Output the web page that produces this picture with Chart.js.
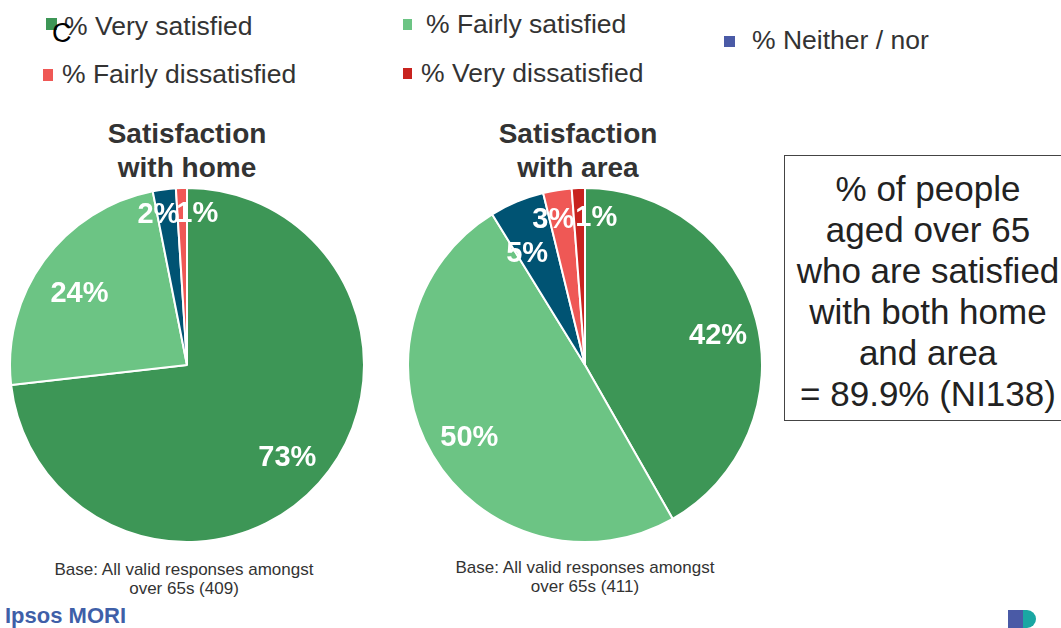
<!DOCTYPE html>
<html><head><meta charset="utf-8">
<script src="https://cdn.jsdelivr.net/npm/chart.js@4.4.1/dist/chart.umd.min.js"></script>
<style>
html,body{margin:0;padding:0;background:#fff;overflow:hidden;width:1061px;height:628px;position:relative;font-family:"Liberation Sans",Arial,sans-serif;}
.abs{position:absolute;white-space:nowrap;}
.lg{font-size:26.5px;color:#333;line-height:30px;}
.sq{position:absolute;}
.title{font-size:28px;font-weight:bold;color:#333;text-align:center;line-height:34px;width:300px;}
.base{font-size:17px;color:#333;text-align:center;line-height:19px;width:340px;}
#box{position:absolute;left:784px;top:155px;width:288px;height:266px;border:1px solid #444;box-sizing:border-box;text-align:center;font-size:35px;line-height:41px;color:#222;padding-top:12px;}
canvas{display:block;}
.cw{position:absolute;width:356px;height:356px;}
</style></head>
<body>
<div class="sq" style="left:46px;top:18px;width:11px;height:12px;background:#3d9656"></div>
<div class="abs lg" style="left:64px;top:11px">% Very satisfied</div>
<div class="abs" style="left:52px;top:18px;font-size:27px;color:#000;line-height:30px;">C</div>
<div class="sq" style="left:403px;top:19px;width:9px;height:11px;background:#6cc484"></div>
<div class="abs lg" style="left:426px;top:9px">% Fairly satisfied</div>
<div class="sq" style="left:724px;top:36px;width:11px;height:11px;background:#4a5aa6"></div>
<div class="abs lg" style="left:752px;top:25px">% Neither / nor</div>
<div class="sq" style="left:43px;top:69px;width:10px;height:12px;background:#ef5855"></div>
<div class="abs lg" style="left:62px;top:59px">% Fairly dissatisfied</div>
<div class="sq" style="left:403px;top:68px;width:9px;height:11px;background:#c8231f"></div>
<div class="abs lg" style="left:421px;top:58px">% Very dissatisfied</div>

<div class="abs title" style="left:37px;top:117px">Satisfaction<br>with home</div>
<div class="abs title" style="left:428px;top:117px">Satisfaction<br>with area</div>

<div class="cw" style="left:9px;top:187px"><canvas id="home"></canvas></div>
<div class="cw" style="left:407px;top:187px"><canvas id="area"></canvas></div>

<div id="box">% of people<br>aged over 65<br>who are satisfied<br>with both home<br>and area<br>= 89.9% (NI138)</div>

<div class="abs base" style="left:14px;top:560px">Base: All valid responses amongst<br>over 65s (409)</div>
<div class="abs base" style="left:415px;top:558px">Base: All valid responses amongst<br>over 65s (411)</div>

<div class="abs" style="left:5px;top:603px;font-size:22px;font-weight:bold;color:#3f5fa8;">Ipsos MORI</div>
<div class="sq" style="left:1008px;top:610px;width:15px;height:18px;background:#4a5aa6"></div>
<div class="sq" style="left:1023px;top:610px;width:13px;height:18px;background:#1aa7a3;border-radius:0 9px 9px 0"></div>

<script>
const categories = ["% Very satisfied", "% Fairly satisfied", "% Neither / nor", "% Fairly dissatisfied", "% Very dissatisfied"];
const homeValues = [73.2, 23.7, 2.1, 1.0, 0];
const areaValues = [41.8, 49.5, 5.0, 2.6, 1.2];
const sliceColors = ["#3d9656", "#6cc484", "#005373", "#ef5855", "#c8231f"];

const sliceLabels = {
  id: 'sliceLabels',
  afterDatasetsDraw(chart, args, opts) {
    const ctx = chart.ctx;
    const meta = chart.getDatasetMeta(0);
    const data = chart.data.datasets[0].data;
    ctx.save();
    ctx.fillStyle = '#fff';
    ctx.font = 'bold 29px "Liberation Sans", Arial, sans-serif';
    ctx.textAlign = 'center';
    ctx.textBaseline = 'middle';
    meta.data.forEach((arc, i) => {
      const v = data[i];
      if (v < 0.5) return;
      const p = arc.getProps(['x','y','startAngle','endAngle','outerRadius'], true);
      const mid = (p.startAngle + p.endAngle) / 2;
      const r = p.outerRadius * (v < 4 ? 0.86 : 0.76);
      const n = (opts.nudge && opts.nudge[i]) || [0,0];
      ctx.fillText(Math.round(v) + '%', p.x + Math.cos(mid) * r + n[0], p.y + Math.sin(mid) * r + 3 + n[1]);
    });
    ctx.restore();
  }
};

function makePie(id, values, nudge) {
  new Chart(document.getElementById(id), {
    type: 'pie',
    data: { labels: categories, datasets: [{ data: values, backgroundColor: sliceColors, borderColor: '#fff', borderWidth: 2 }] },
    options: {
      responsive: true, maintainAspectRatio: false, animation: false,
      layout: { padding: 0 },
      plugins: { legend: { display: false }, tooltip: { enabled: false }, sliceLabels: { nudge } }
    },
    plugins: [sliceLabels]
  });
}
makePie('home', homeValues, [[0,0],[1,5],[-9,-2],[15,-2],[0,0]]);
makePie('area', areaValues, [[3,2],[0,1],[-6,10],[-8,2],[17,2]]);
</script>
</body></html>
